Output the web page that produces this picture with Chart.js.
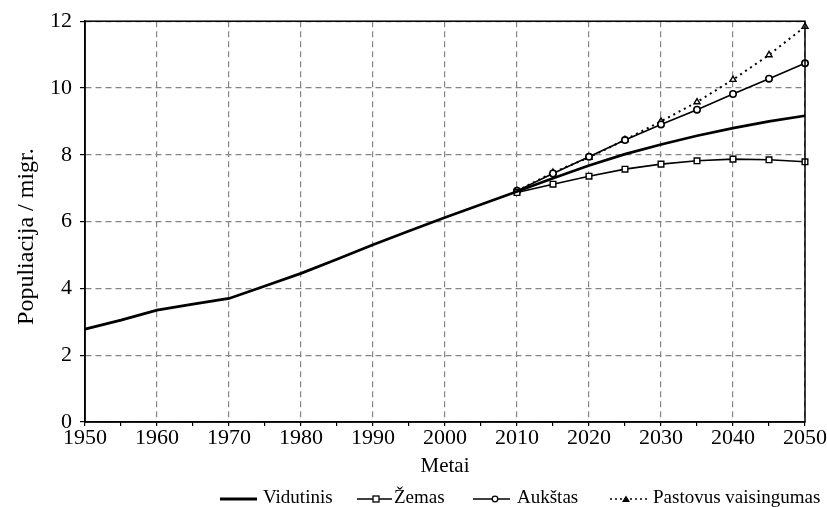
<!DOCTYPE html>
<html>
<head>
<meta charset="utf-8">
<script src="https://cdn.jsdelivr.net/npm/chart.js@4"></script>
<style>
  html, body { margin: 0; padding: 0; background: #fff; }
  #wrap { width: 827px; height: 507px; }
</style>
</head>
<body>
<div id="wrap"><canvas id="popChart"></canvas></div>
<script>
const years = [1950, 1955, 1960, 1965, 1970, 1975, 1980, 1985, 1990, 1995, 2000,
               2005, 2010, 2015, 2020, 2025, 2030, 2035, 2040, 2045, 2050];
const medium = [2.78, 3.05, 3.35, 3.53, 3.70, 4.07, 4.45, 4.87, 5.31, 5.72, 6.12,
                6.51, 6.90, 7.30, 7.68, 8.02, 8.31, 8.57, 8.80, 9.00, 9.17];
const low = [null, null, null, null, null, null, null, null, null, null, null,
             null, 6.87, 7.12, 7.36, 7.57, 7.72, 7.82, 7.87, 7.85, 7.79];
const high = [null, null, null, null, null, null, null, null, null, null, null,
              null, 6.92, 7.44, 7.94, 8.44, 8.91, 9.35, 9.82, 10.28, 10.74];
const constant = [null, null, null, null, null, null, null, null, null, null, null,
                  null, 6.92, 7.47, 7.92, 8.45, 9.00, 9.58, 10.25, 10.99, 11.84];
const seriesNames = ['Vidutinis', 'Žemas', 'Aukštas', 'Pastovus vaisingumas'];

const serif = "'Liberation Serif', 'Times New Roman', serif";

// box round the plot area
const frame = {
  id: 'frame',
  afterDatasetsDraw(chart) {
    const a = chart.chartArea, ctx = chart.ctx;
    ctx.save();
    ctx.strokeStyle = '#000';
    ctx.lineWidth = 1.5;
    ctx.strokeRect(a.left, a.top, a.right - a.left, a.bottom - a.top);
    ctx.restore();
  }
};

// legend row under the axis title: line sample, marker, text
const legendRow = {
  id: 'legendRow',
  afterDraw(chart) {
    const ctx = chart.ctx;
    const y = 499;
    const items = [
      { x0: 220, x1: 257, mx: 0, kind: null, w: 3, dash: [], tx: 263 },
      { x0: 357, x1: 392, mx: 376, kind: 'rect', w: 1.5, dash: [], tx: 394 },
      { x0: 473, x1: 510, mx: 495, kind: 'circle', w: 1.5, dash: [], tx: 517 },
      { x0: 610, x1: 648, mx: 626, kind: 'triangle', w: 1.5, dash: [2, 3], tx: 653 }
    ];
    ctx.save();
    items.forEach((it, i) => {
      ctx.strokeStyle = '#000';
      ctx.lineWidth = it.w;
      ctx.setLineDash(it.dash);
      ctx.beginPath(); ctx.moveTo(it.x0, y); ctx.lineTo(it.x1, y); ctx.stroke();
      ctx.setLineDash([]);
      ctx.lineWidth = 1.3;
      ctx.fillStyle = '#fff';
      if (it.kind === 'rect') { ctx.fillRect(it.mx - 3, y - 3, 6, 6); ctx.strokeRect(it.mx - 3, y - 3, 6, 6); }
      if (it.kind === 'circle') { ctx.beginPath(); ctx.arc(it.mx, y, 2.8, 0, Math.PI * 2); ctx.fill(); ctx.stroke(); }
      if (it.kind === 'triangle') {
        ctx.fillStyle = '#000';
        ctx.beginPath(); ctx.moveTo(it.mx, y - 3.5); ctx.lineTo(it.mx + 4, y + 3); ctx.lineTo(it.mx - 4, y + 3); ctx.closePath(); ctx.fill();
      }
      ctx.fillStyle = '#000';
      ctx.font = '19px ' + serif;
      ctx.textBaseline = 'middle';
      ctx.textAlign = 'left';
      ctx.fillText(seriesNames[i], it.tx, y - 1);
    });
    ctx.restore();
  }
};

new Chart(document.getElementById('popChart'), {
  type: 'line',
  data: {
    labels: years,
    datasets: [
      { label: seriesNames[0], data: medium, borderColor: '#000', borderWidth: 2.7, pointRadius: 0, tension: 0 },
      { label: seriesNames[1], data: low, borderColor: '#000', borderWidth: 1.6, pointStyle: 'rect', pointRadius: 4,
        pointBackgroundColor: '#fff', pointBorderColor: '#000', pointBorderWidth: 1.4 },
      { label: seriesNames[2], data: high, borderColor: '#000', borderWidth: 1.6, pointStyle: 'circle', pointRadius: 3.2,
        pointBackgroundColor: '#fff', pointBorderColor: '#000', pointBorderWidth: 1.6 },
      { label: seriesNames[3], data: constant, borderColor: '#000', borderWidth: 2, borderDash: [2, 4], pointStyle: 'triangle',
        pointRadius: 3.5, pointBackgroundColor: '#fff', pointBorderColor: '#000', pointBorderWidth: 1.4 }
    ]
  },
  options: {
    responsive: true,
    maintainAspectRatio: false,
    animation: false,
    layout: { padding: { left: 0, right: 22, top: 8, bottom: 27 } },
    plugins: {
      tooltip: { enabled: false },
      legend: { display: false }
    },
    scales: {
      x: {
        type: 'category',
        offset: false,
        afterFit: s => { s.height = 58; },
        title: { display: true, text: 'Metai', color: '#000', font: { family: serif, size: 21 }, padding: { top: 0, bottom: 1 } },
        ticks: {
          autoSkip: false, maxRotation: 0, color: '#000', padding: -1,
          font: { family: serif, size: 22 },
          callback: (v, i) => years[i] % 10 === 0 ? String(years[i]) : ''
        },
        grid: {
          color: c => (c.tick && years[c.index] % 10 === 0) ? '#858585' : 'rgba(0,0,0,0)',
          lineWidth: 1.2,
          tickColor: '#000',
          tickLength: 4
        },
        border: { color: '#000', width: 1.5, dash: [6, 4] }
      },
      y: {
        min: 0, max: 12,
        afterFit: s => { s.width = 85; },
        title: { display: true, text: 'Populiacija / migr.\u00a0\u00a0\u00a0\u00a0\u00a0', color: '#000', font: { family: serif, size: 24 }, padding: { top: 12, bottom: 0 } },
        ticks: { stepSize: 2, color: '#000', padding: 8, font: { family: serif, size: 22 } },
        grid: { color: '#858585', lineWidth: 1.2, tickColor: '#000', tickLength: 5 },
        border: { color: '#000', width: 1.5, dash: [6, 4] }
      }
    }
  },
  plugins: [frame, legendRow]
});
</script>
</body>
</html>
